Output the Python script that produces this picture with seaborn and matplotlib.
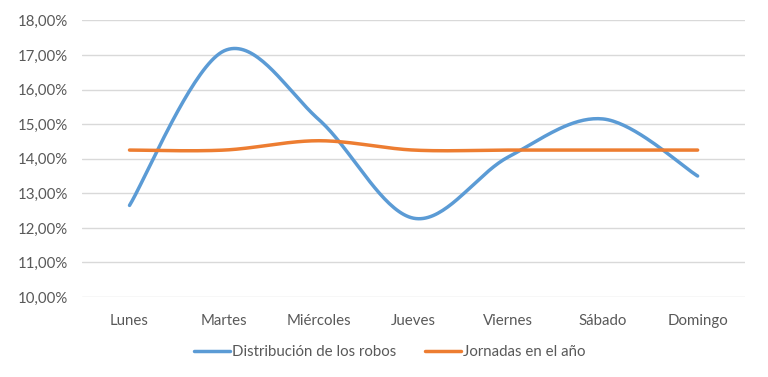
import numpy as np
import pandas as pd
import matplotlib
matplotlib.use("Agg")
import matplotlib.pyplot as plt
import seaborn as sns

dias = ["Lunes", "Martes", "Miércoles", "Jueves", "Viernes", "Sábado", "Domingo"]
robos = [12.65, 17.12, 15.13, 12.28, 14.05, 15.15, 13.50]
jornadas = [14.25, 14.25, 14.52, 14.25, 14.25, 14.25, 14.25]
series_names = ["Distribución de los robos", "Jornadas en el año"]
ytick_vals = [10, 11, 12, 13, 14, 15, 16, 17, 18]


def smooth(values, n=40):
    # Excel-style smoothed line (Catmull-Rom / cubic Bezier) for display only
    y = np.asarray(values, dtype=float)
    x = np.arange(len(y), dtype=float)
    xs, ys = [], []
    for i in range(len(y) - 1):
        p0 = np.array([x[max(i - 1, 0)], y[max(i - 1, 0)]])
        p1 = np.array([x[i], y[i]])
        p2 = np.array([x[i + 1], y[i + 1]])
        p3 = np.array([x[min(i + 2, len(y) - 1)], y[min(i + 2, len(y) - 1)]])
        c1 = p1 + (p2 - p0) / 6
        c2 = p2 - (p3 - p1) / 6
        t = np.linspace(0, 1, n)[:, None]
        pts = ((1 - t) ** 3) * p1 + 3 * ((1 - t) ** 2) * t * c1 + 3 * (1 - t) * t ** 2 * c2 + t ** 3 * p2
        if i > 0:
            pts = pts[1:]
        xs.extend(pts[:, 0])
        ys.extend(pts[:, 1])
    return xs, ys


frames = []
for name, vals in zip(series_names, [robos, jornadas]):
    sx, sy = smooth(vals)
    frames.append(pd.DataFrame({"x": sx, "y": sy, "serie": name}))
df = pd.concat(frames, ignore_index=True)

sns.set_theme(style="white")
plt.rcParams["font.family"] = ["Lato", "DejaVu Sans"]

fig = plt.figure(figsize=(7.68, 3.77), dpi=100)
ax = fig.add_axes([0.107, 0.212, 0.863, 0.734])

palette = {series_names[0]: "#5B9BD5", series_names[1]: "#ED7D31"}
sns.lineplot(data=df, x="x", y="y", hue="serie", palette=palette, sort=False,
             estimator=None, linewidth=2.5, ax=ax, solid_capstyle="round")

ax.set_xlim(-0.5, len(dias) - 0.5)
ax.set_ylim(10, 18)
ax.set_xticks(range(len(dias)))
ax.set_xticklabels(dias)
ax.set_yticks(ytick_vals)
ax.set_yticklabels([f"{v:.2f}%".replace(".", ",") for v in ytick_vals])
ax.yaxis.grid(True, color="#D9D9D9", linewidth=1)
ax.xaxis.grid(False)
for s in ax.spines.values():
    s.set_visible(False)
ax.tick_params(axis="both", length=0, labelsize=10.8, colors="#595959", pad=10)
ax.tick_params(axis="x", pad=12)
ax.set_xlabel("")
ax.set_ylabel("")

ax.legend(loc="center", bbox_to_anchor=(390 / 768, 1 - 352 / 377),
          bbox_transform=fig.transFigure, ncol=2, frameon=False,
          fontsize=10.8, labelcolor="#595959", handlelength=2.4, handletextpad=0.15,
          columnspacing=1.9)

fig.savefig("out.png", dpi=100)
